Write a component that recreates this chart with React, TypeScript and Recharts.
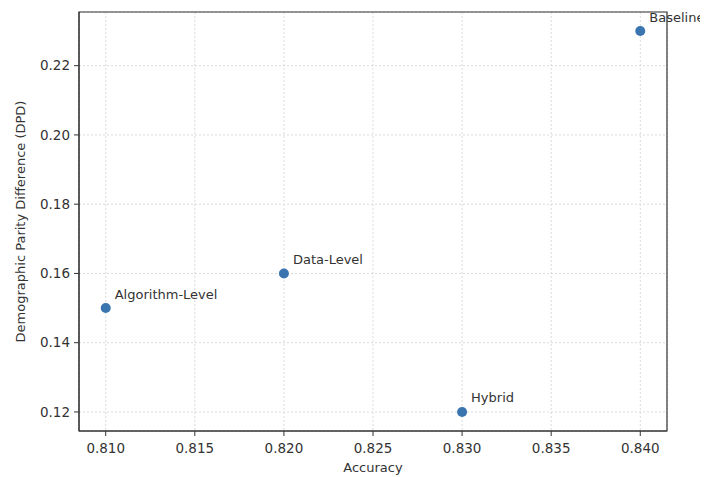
import React from 'react';
import { ScatterChart, Scatter, XAxis, YAxis, CartesianGrid, ReferenceArea } from 'recharts';

const methods = ['Baseline', 'Data-Level', 'Algorithm-Level', 'Hybrid'];
const accuracy = [0.84, 0.82, 0.81, 0.83];
const dpd = [0.23, 0.16, 0.15, 0.12];
const xTicks = [0.81, 0.815, 0.82, 0.825, 0.83, 0.835, 0.84];
const yTicks = [0.12, 0.14, 0.16, 0.18, 0.2, 0.22];
const xDomain = [0.8085, 0.8415];
const yDomain = [0.1145, 0.2355];

const points = methods.map((name, i) => ({ name, acc: accuracy[i], dpd: dpd[i] }));

const FONT = 'DejaVu Sans, sans-serif';
const TEXT = '#333';

// circle with an annotation offset up-right, like matplotlib's annotate
const PointWithLabel = (props: any) => {
  const { cx, cy, payload } = props;
  return (
    <g>
      <circle cx={cx} cy={cy} r={5} fill="#3a75b0" />
      <text x={cx + 9} y={cy - 14} fontSize={13} fontFamily={FONT} fill={TEXT} dominantBaseline="central">
        {payload.name}
      </text>
    </g>
  );
};

const App: React.FC = () => {
  const tickStyle = { fontSize: 13.5, fontFamily: FONT, fill: TEXT };
  return (
    <div style={{ width: 700, height: 469 }}>
      <ScatterChart width={700} height={469} margin={{ top: 4, right: 41, bottom: 0, left: 0 }}>
        <CartesianGrid stroke="#d2d2d2" strokeDasharray="2 2" strokeWidth={0.8} />
        <XAxis
          type="number"
          dataKey="acc"
          domain={xDomain}
          ticks={xTicks}
          tickFormatter={(v: number) => v.toFixed(3)}
          height={46}
          stroke="#333"
          tick={tickStyle}
          tickSize={5}
          tickMargin={7}
          label={{ value: 'Accuracy', position: 'insideBottom', offset: 5, style: { fontSize: 13, fontFamily: FONT, fill: TEXT } }}
        />
        <YAxis
          type="number"
          dataKey="dpd"
          domain={yDomain}
          ticks={yTicks}
          tickFormatter={(v: number) => v.toFixed(2)}
          width={71}
          stroke="#333"
          tick={tickStyle}
          tickSize={5}
          tickMargin={4}
          label={{
            value: 'Demographic Parity Difference (DPD)',
            angle: -90,
            position: 'insideLeft',
            offset: 12,
            style: { textAnchor: 'middle', fontSize: 13, fontFamily: FONT, fill: TEXT },
          }}
        />
        {/* full frame like matplotlib spines */}
        <ReferenceArea x1={xDomain[0]} x2={xDomain[1]} y1={yDomain[0]} y2={yDomain[1]} fill="none" stroke="#333" strokeWidth={1.2} />
        <Scatter data={points} shape={PointWithLabel} isAnimationActive={false} />
      </ScatterChart>
    </div>
  );
};

export default App;
